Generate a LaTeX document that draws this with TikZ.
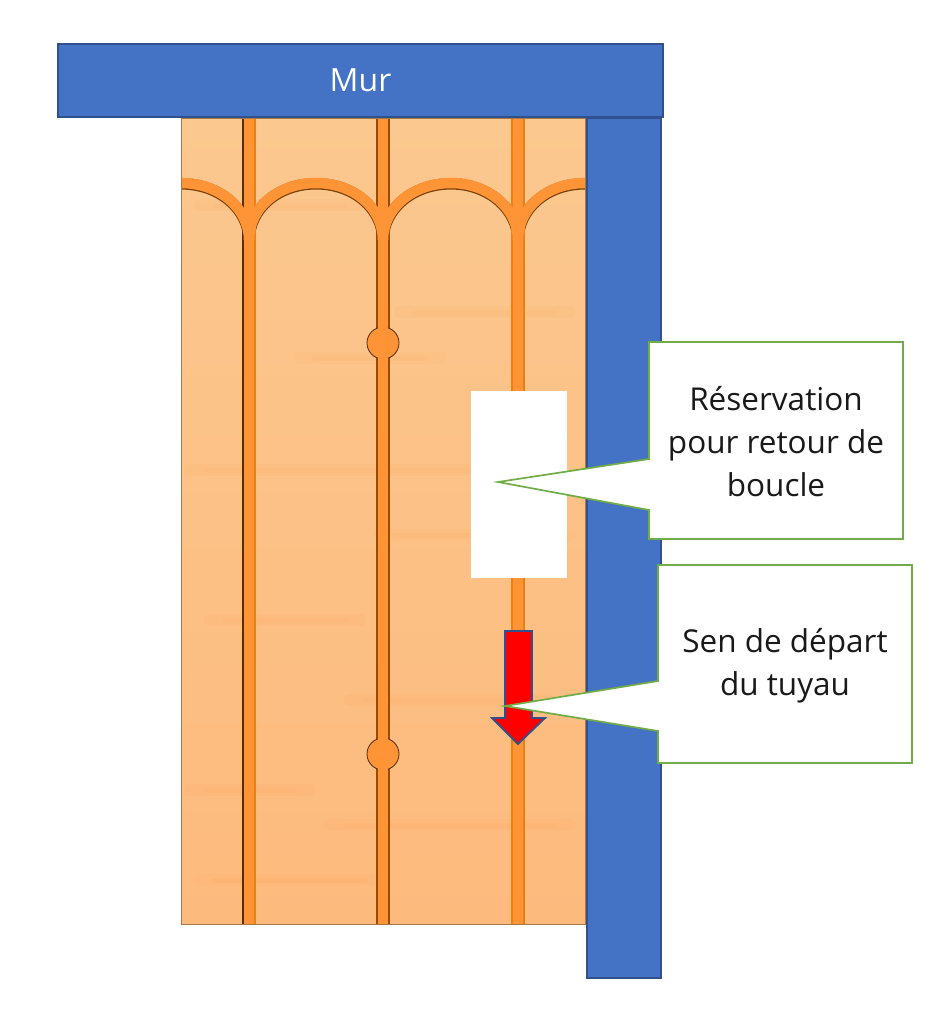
\documentclass[tikz,border=0pt]{standalone}
\usepackage{fontspec}
\setmainfont{Open Sans}
\definecolor{mur}{HTML}{4472C4}
\definecolor{murbord}{HTML}{2F528F}
\definecolor{tuyau}{HTML}{FF9437}
\definecolor{bulle}{HTML}{70AD47}
\definecolor{panneauhaut}{HTML}{FBC88F}
\definecolor{panneaubas}{HTML}{FDBA7D}
\tikzset{
	mur/.style={fill=mur, draw=murbord, line width=1.2pt},
	tuyau/.style={draw=tuyau, line width=10.5pt},
	jonction/.style={circle, fill=tuyau, draw=black!70!tuyau, line width=0.8pt, minimum size=32pt, inner sep=0pt},
	bulle/.style={fill=white, draw=bulle, line width=1.7pt, line join=miter},
	bulletexte/.style={align=center, font=\fontsize{31.5}{43}\selectfont, text=black!90, inner sep=0pt}
}
\begin{document}
\begin{tikzpicture}[x=1pt, y=-1pt]
			\useasboundingbox (0, 0) rectangle (943, 1021);

			% panneau
			\begin{scope}
				\clip (181, 118) rectangle (585, 924);
				\fill[top color=panneauhaut, bottom color=panneaubas] (181, 118) rectangle (585, 924);
				\foreach \by/\bx/\bw in {205/200/160, 312/400/170, 358/300/140, 470/190/300, 535/380/190, 620/210/150, 700/350/200, 790/190/120, 825/330/240, 880/200/180} {
					\draw[orange!80!red, opacity=0.03, line width=12pt, line cap=round] (\bx, \by) -- ++(\bw, 0);
					\draw[orange!80!red, opacity=0.03, line width=5pt, line cap=round] (\bx+15, \by) -- ++(\bw-30, 0);
				}

				% bords sombres des arcs
				\draw[black!55!orange!90!brown, line width=11.5pt, yshift=-0.8pt] (181, 183) .. controls (219, 183) and (249, 208) .. (249, 240) .. controls (249, 208) and (278, 183) .. (316, 183) .. controls (354, 183) and (383, 208) .. (383, 240) .. controls (383, 208) and (413, 183) .. (451, 183) .. controls (488, 183) and (518, 208) .. (518, 240) .. controls (518, 208) and (547, 183) .. (585, 183);

				% bords des tuyaux
				\foreach \px/\pg/\pd in {249/black!65!orange/orange!70!brown, 383/black!40!orange/black!40!orange, 518/orange!75!brown/orange!60!brown} {
					\draw[\pg, line width=1.1pt] (\px-6, 118) -- (\px-6, 924);
					\draw[\pd, line width=1.1pt] (\px+6, 118) -- (\px+6, 924);
				}
				\node[jonction] (J1) at (383, 343) {};
				\node[jonction] (J2) at (383, 754) {};

				% tuyaux
				\draw[tuyau] (181, 183) .. controls (219, 183) and (249, 208) .. (249, 240) .. controls (249, 208) and (278, 183) .. (316, 183) .. controls (354, 183) and (383, 208) .. (383, 240) .. controls (383, 208) and (413, 183) .. (451, 183) .. controls (488, 183) and (518, 208) .. (518, 240) .. controls (518, 208) and (547, 183) .. (585, 183);
				\foreach \px in {249, 383, 518}
					\draw[tuyau] (\px, 118) -- (\px, 924);
			\end{scope}
			\draw[black!50!orange!70!white, line width=0.8pt] (181, 118) rectangle (585, 924);

			% reservation
			\fill[white] (471, 391) rectangle (567, 578);

			% murs
			\draw[mur] (587, 118) rectangle (661, 978);
			\node[mur, minimum width=605pt, minimum height=73pt, inner sep=0pt, text=white, font=\fontsize{32}{36}\selectfont] (Mur) at (360.5, 80.5) {Mur};

			% fleche
			\draw[fill=red, draw=murbord, line width=1.8pt, line join=miter] (505, 631) -- (532, 631) -- (532, 718) -- (545, 718) -- (518, 744) -- (492, 718) -- (505, 718) -- cycle;

			% bulles
			\draw[bulle] (649, 342) -- (903, 342) -- (903, 539) -- (649, 539) -- (649, 510) -- (498, 482) -- (649, 459) -- cycle;
			\node[bulletexte] (Resa) at (776, 442) {Réservation\\pour retour de\\boucle};

			\draw[bulle] (658, 565) -- (912, 565) -- (912, 763) -- (658, 763) -- (658, 731) -- (505, 706) -- (658, 681) -- cycle;
			\node[bulletexte] (Sens) at (785, 666) {Sen de départ\\du tuyau};

		\end{tikzpicture}
\end{document}
